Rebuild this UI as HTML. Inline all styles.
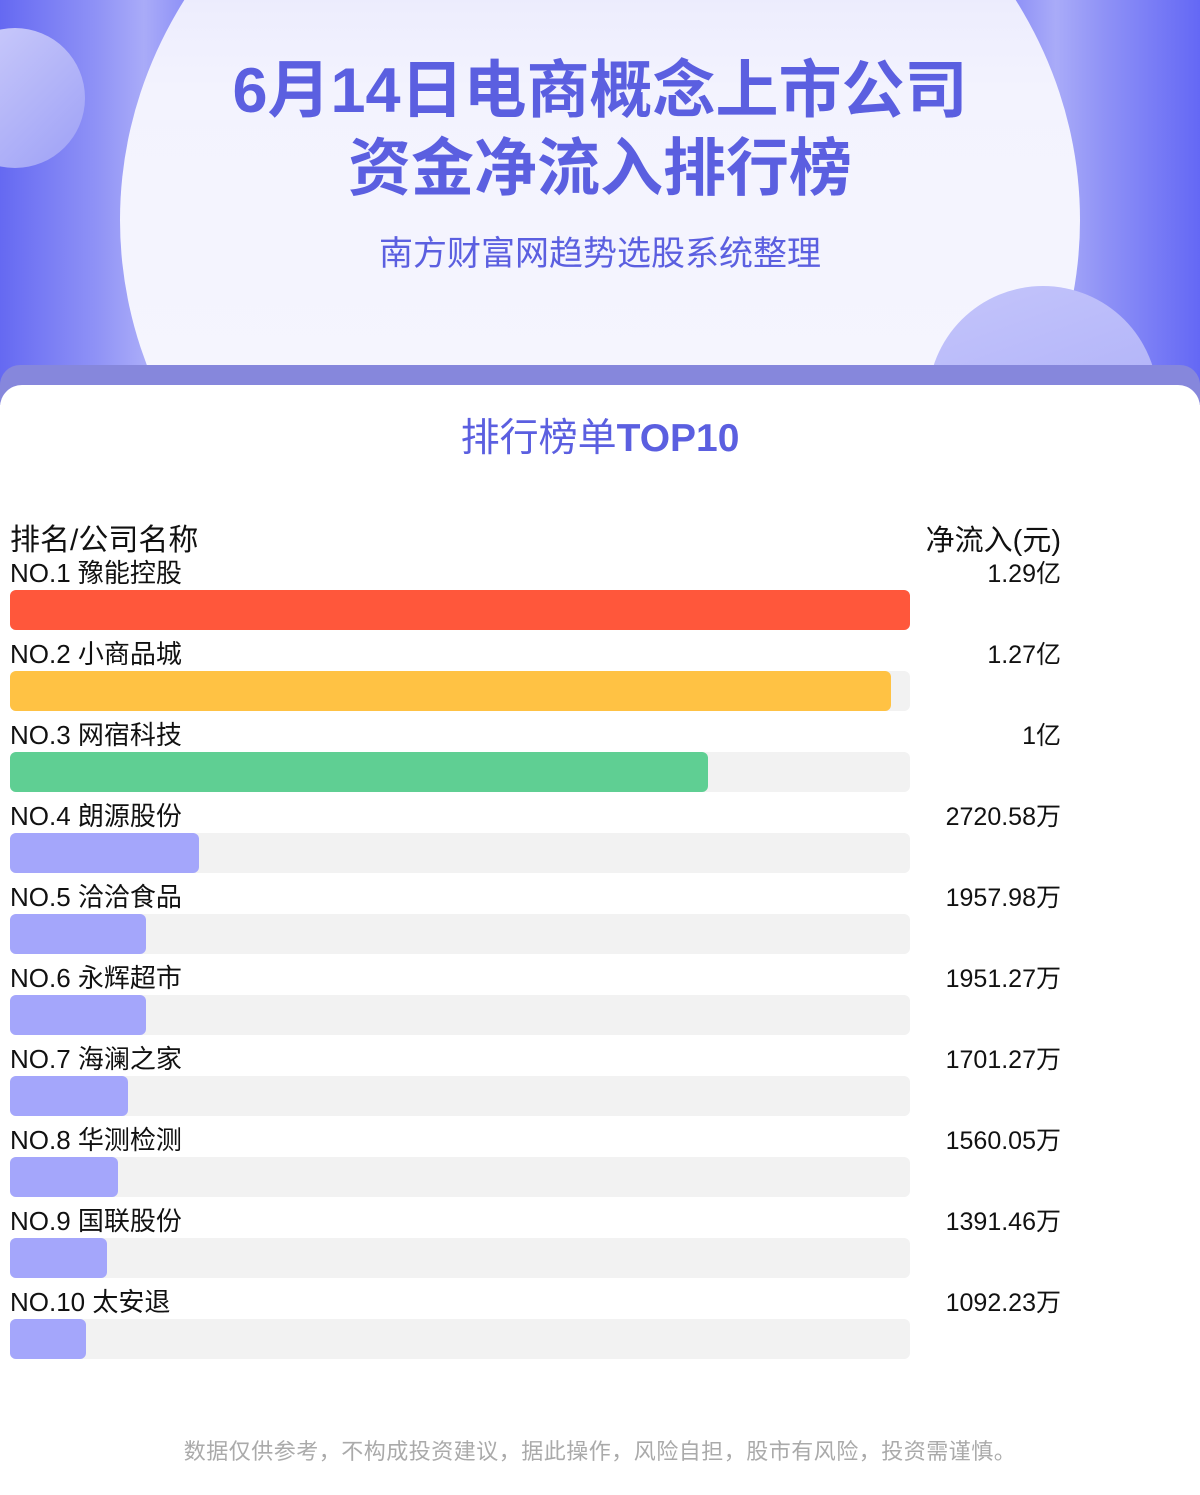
<!DOCTYPE html>
<html><head><meta charset="utf-8"><style>
*{margin:0;padding:0;box-sizing:border-box}
body{width:1200px;height:1495px;position:relative;overflow:hidden;background:#fff;font-family:"Liberation Sans","Noto Sans CJK SC",sans-serif}
.hdr{position:absolute;left:0;top:0;width:1200px;height:400px;background:linear-gradient(90deg,#6569f2,#8f92f6 8%,#a9abf8 12%,#6b6ff5 20%,#6b6ff5 80%,#a9abf8 88%,#8f92f6 92%,#6468f5);overflow:hidden}
.ell{position:absolute;left:120px;top:-220px;width:960px;height:880px;border-radius:50%;background:linear-gradient(180deg,#dcdcfb 0%,#f3f3fe 35%,#f7f7fe 100%)}
.c1{position:absolute;left:-55px;top:28px;width:140px;height:140px;border-radius:50%;background:linear-gradient(135deg,#d0d0fb,#9da0f6)}
.c2{position:absolute;left:928px;top:286px;width:230px;height:230px;border-radius:50%;background:linear-gradient(160deg,#c4c5fb,#a6a8f7)}
.band{position:absolute;left:0;top:365px;width:1200px;height:40px;background:#8687dc;border-radius:20px 20px 0 0}
.card{position:absolute;left:0;top:385px;width:1200px;height:1110px;background:#fff;border-radius:22px 22px 0 0}
.t1{position:absolute;left:0;width:1200px;text-align:center;color:#5b5fe0;font-weight:bold;font-size:63px;line-height:78px}
.sub{position:absolute;left:0;top:226px;width:1200px;text-align:center;color:#5b5fe0;font-size:34px}
.top{position:absolute;left:0;top:407px;width:1200px;text-align:center;color:#5b5fe0;font-size:39px}
.lab{position:absolute;left:10px;font-size:26px;color:#111}
.val{position:absolute;right:139px;font-size:25px;color:#111;text-align:right}
.tr{position:absolute;left:10px;width:900px;height:40px;background:#f2f2f2;border-radius:6px}
.br{position:absolute;left:10px;height:40px;border-radius:6px}
.foot{position:absolute;left:0;top:1434px;width:1200px;text-align:center;color:#aaa;font-size:22px;letter-spacing:0.5px}
</style></head><body>
<div class="hdr"><div class="ell"></div><div class="c1"></div><div class="c2"></div></div>
<div class="t1" style="top:52px">6月14日电商概念上市公司</div>
<div class="t1" style="top:130px">资金净流入排行榜</div>
<div class="sub">南方财富网趋势选股系统整理</div>
<div class="band"></div>
<div class="card"></div>
<div class="top">排行榜单<b>TOP10</b></div>
<div class="lab" style="top:515px;font-size:30px">排名/公司名称</div>
<div class="val" style="top:517px;font-size:29px">净流入(元)</div>

<div class="lab" style="top:553px">NO.1 豫能控股</div><div class="val" style="top:554px">1.29亿</div>
<div class="tr" style="top:590px"></div><div class="br" style="top:590px;width:900px;background:#ff573b"></div>
<div class="lab" style="top:634px">NO.2 小商品城</div><div class="val" style="top:635px">1.27亿</div>
<div class="tr" style="top:671px"></div><div class="br" style="top:671px;width:881px;background:#ffc244"></div>
<div class="lab" style="top:715px">NO.3 网宿科技</div><div class="val" style="top:716px">1亿</div>
<div class="tr" style="top:752px"></div><div class="br" style="top:752px;width:698px;background:#5fcf93"></div>
<div class="lab" style="top:796px">NO.4 朗源股份</div><div class="val" style="top:797px">2720.58万</div>
<div class="tr" style="top:833px"></div><div class="br" style="top:833px;width:189px;background:#a4a6fb"></div>
<div class="lab" style="top:877px">NO.5 洽洽食品</div><div class="val" style="top:878px">1957.98万</div>
<div class="tr" style="top:914px"></div><div class="br" style="top:914px;width:136px;background:#a4a6fb"></div>
<div class="lab" style="top:958px">NO.6 永辉超市</div><div class="val" style="top:959px">1951.27万</div>
<div class="tr" style="top:995px"></div><div class="br" style="top:995px;width:136px;background:#a4a6fb"></div>
<div class="lab" style="top:1039px">NO.7 海澜之家</div><div class="val" style="top:1040px">1701.27万</div>
<div class="tr" style="top:1076px"></div><div class="br" style="top:1076px;width:118px;background:#a4a6fb"></div>
<div class="lab" style="top:1120px">NO.8 华测检测</div><div class="val" style="top:1121px">1560.05万</div>
<div class="tr" style="top:1157px"></div><div class="br" style="top:1157px;width:108px;background:#a4a6fb"></div>
<div class="lab" style="top:1201px">NO.9 国联股份</div><div class="val" style="top:1202px">1391.46万</div>
<div class="tr" style="top:1238px"></div><div class="br" style="top:1238px;width:97px;background:#a4a6fb"></div>
<div class="lab" style="top:1282px">NO.10 太安退</div><div class="val" style="top:1283px">1092.23万</div>
<div class="tr" style="top:1319px"></div><div class="br" style="top:1319px;width:76px;background:#a4a6fb"></div>

<div class="foot">数据仅供参考，不构成投资建议，据此操作，风险自担，股市有风险，投资需谨慎。</div>
</body></html>
